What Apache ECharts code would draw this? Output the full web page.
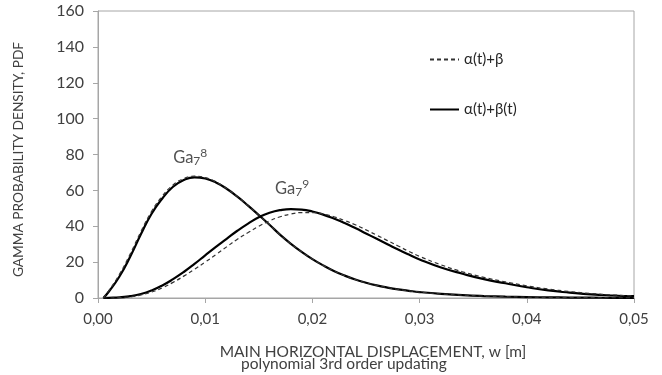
<!DOCTYPE html>
<html>
<head>
<meta charset="utf-8">
<script src="https://cdn.jsdelivr.net/npm/echarts@6/dist/echarts.min.js"></script>
<style>
  html, body { margin: 0; padding: 0; background: #fff; }
  #chart-container { width: 662px; height: 375px; }
</style>
</head>
<body>
<div id="chart-container"></div>
<script>
  // displacement w [m]
  var xs = [0.0005, 0.001, 0.002, 0.003, 0.004, 0.005, 0.006, 0.007, 0.008, 0.009, 0.010,
            0.011, 0.012, 0.013, 0.014, 0.015, 0.016, 0.017, 0.018, 0.019, 0.020,
            0.021, 0.022, 0.023, 0.024, 0.025, 0.026, 0.027, 0.028, 0.029, 0.030,
            0.032, 0.034, 0.036, 0.038, 0.040, 0.042, 0.044, 0.046, 0.048, 0.050];

  // Ga7^8, alpha(t)+beta(t) (solid)
  var ga8Solid = [0, 3.5, 12, 23, 35.5, 47, 55.5, 62, 65.8, 67.3, 66.6,
                  64.4, 60.9, 56.5, 51.5, 46.2, 40.8, 35.2, 30.2, 25.7, 21.7,
                  18.2, 15.1, 12.5, 10.3, 8.5, 7.0, 5.8, 4.8, 4.0, 3.3,
                  2.3, 1.6, 1.1, 0.75, 0.5, 0.35, 0.25, 0.17, 0.12, 0.08];
  // Ga7^8, alpha(t)+beta (dashed)
  var ga8Dashed = [0, 4, 13.2, 24.5, 37, 48.3, 56.8, 63, 66.6, 67.9, 67.1,
                   64.7, 61, 56.5, 51.5, 46.2, 40.8, 35.2, 30.2, 25.7, 21.7,
                   18.2, 15.1, 12.5, 10.3, 8.5, 7.0, 5.8, 4.8, 4.0, 3.3,
                   2.3, 1.6, 1.1, 0.75, 0.5, 0.35, 0.25, 0.17, 0.12, 0.08];
  // Ga7^9, alpha(t)+beta(t) (solid)
  var ga9Solid = [0, 0.1, 0.3, 1.0, 2.2, 4.2, 7.0, 10.5, 14.5, 19, 23.8,
                  28.5, 33, 37.5, 41.5, 45, 47.5, 49, 49.6, 49.3, 48.2,
                  46.5, 44.3, 41.8, 39, 36, 33, 30, 27, 24.2, 21.5,
                  17, 13.5, 10.5, 8.2, 6, 4.2, 3.0, 2.0, 1.4, 1];
  // Ga7^9, alpha(t)+beta (dashed)
  var ga9Dashed = [0, 0, 0.2, 0.7, 1.7, 3.3, 5.7, 8.7, 12.2, 16, 20,
                   24.2, 28.5, 32.8, 36.5, 40, 43, 45.3, 46.8, 47.6, 47.6,
                   46.8, 45.3, 43.2, 40.8, 38, 35, 32, 29, 26, 23.2,
                   18.5, 14.6, 11.5, 9, 6.8, 5, 3.6, 2.5, 1.7, 1.1];

  var legendNames = ['α(t)+β', 'α(t)+β(t)'];
  var curveLabels = [
    { text: '{m|Ga}{s|7}{p|8}', w: 0.0086, v: 78.5 },
    { text: '{m|Ga}{s|7}{p|9}', w: 0.0181, v: 61 }
  ];

  function pairs(vals) {
    return xs.map(function (x, i) { return [x, vals[i]]; });
  }

  var fontFamily = 'Lato, "Open Sans", sans-serif';
  var textColor = '#404040';
  var axisColor = '#a6a6a6';

  var dom = document.getElementById('chart-container');
  var myChart = echarts.init(dom, null, { renderer: 'canvas' });

  var solidStyle = { color: '#000', width: 2.2, type: 'solid' };
  var dashStyle = { color: '#333', width: 1.2, type: [4, 3] };

  var option = {
    animation: false,
    backgroundColor: '#fff',
    textStyle: { fontFamily: fontFamily, color: textColor },
    title: {
      text: 'polynomial 3rd order updating',
      left: 241,
      top: 356,
      padding: 0,
      textStyle: { fontFamily: fontFamily, fontSize: 15.5, lineHeight: 16, fontWeight: 'normal', color: textColor }
    },
    grid: {
      left: 98, right: 28, top: 11, bottom: 77,
      show: true, borderColor: axisColor, borderWidth: 1
    },
    legend: {
      data: legendNames,
      orient: 'vertical',
      left: 429,
      top: 52,
      padding: 0,
      itemWidth: 29,
      itemHeight: 14,
      itemGap: 35,
      itemStyle: { opacity: 0 },
      textStyle: { fontFamily: fontFamily, fontSize: 15, lineHeight: 14, color: '#262626' }
    },
    xAxis: {
      type: 'value',
      min: 0, max: 0.05, interval: 0.01,
      name: 'MAIN HORIZONTAL DISPLACEMENT, w [m]',
      nameLocation: 'middle',
      nameGap: 46,
      nameTextStyle: { fontFamily: fontFamily, fontSize: 15.5, color: textColor, padding: [0, 0, 0, 14] },
      axisLine: { show: true, lineStyle: { color: axisColor } },
      axisTick: { show: true, inside: false, length: 5, lineStyle: { color: axisColor } },
      axisLabel: {
        margin: 14, fontSize: 15, color: textColor,
        formatter: function (v) { return v.toFixed(2).replace('.', ','); }
      },
      splitLine: { show: false }
    },
    yAxis: {
      type: 'value',
      min: 0, max: 160, interval: 20,
      name: 'GAMMA PROBABILITY DENSITY, PDF',
      nameLocation: 'middle',
      nameGap: 72,
      nameTextStyle: { fontFamily: fontFamily, fontSize: 13.7, color: textColor, padding: [0, 10, 0, 0] },
      axisLine: { show: true, lineStyle: { color: axisColor } },
      axisTick: { show: true, inside: false, length: 5, lineStyle: { color: axisColor } },
      axisLabel: { margin: 14, fontSize: 16, color: textColor },
      splitLine: { show: false }
    },
    series: [
      { name: legendNames[0], type: 'line', smooth: true, symbol: 'none', data: pairs(ga8Dashed), lineStyle: dashStyle, itemStyle: { color: '#333' }, z: 3 },
      { name: legendNames[0], type: 'line', smooth: true, symbol: 'none', data: pairs(ga9Dashed), lineStyle: dashStyle, itemStyle: { color: '#333' }, z: 3 },
      { name: legendNames[1], type: 'line', smooth: true, symbol: 'none', data: pairs(ga8Solid), lineStyle: solidStyle, itemStyle: { color: '#000' }, z: 2 },
      { name: legendNames[1], type: 'line', smooth: true, symbol: 'none', data: pairs(ga9Solid), lineStyle: solidStyle, itemStyle: { color: '#000' }, z: 2 },
      {
        type: 'scatter',
        symbolSize: 0,
        silent: true,
        data: curveLabels.map(function (c) { return { value: [c.w, c.v], labelText: c.text }; }),
        label: {
          show: true,
          position: 'inside',
          formatter: function (p) { return p.data.labelText; },
          rich: {
            m: { fontFamily: fontFamily, fontSize: 16.5, color: '#262626', lineHeight: 20, verticalAlign: 'middle' },
            s: { fontFamily: fontFamily, fontSize: 12, color: '#262626', verticalAlign: 'bottom', lineHeight: 20 },
            p: { fontFamily: fontFamily, fontSize: 12, color: '#262626', verticalAlign: 'top', lineHeight: 20 }
          }
        }
      }
    ]
  };

  myChart.setOption(option);
</script>
</body>
</html>
